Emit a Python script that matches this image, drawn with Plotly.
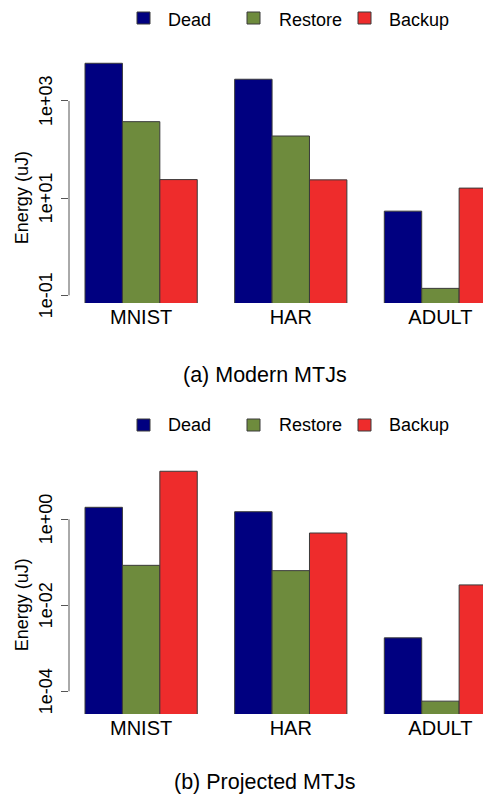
import math
import plotly.graph_objects as go

# The page places the figure 8px from the top-left corner (body margin),
# so the figure is sized to end exactly at the 491x799 window edge.
PAGE_W, PAGE_H = 491, 799
OFF = 8
W, H = PAGE_W - OFF, PAGE_H - OFF

categories = ["MNIST", "HAR", "ADULT"]
series_names = ["Dead", "Restore", "Backup"]
colors = ["#000080", "#6E8B3D", "#EE2C2C"]

# Panel (a): Modern MTJs (uJ)
modern_dead = [5970, 2800, 5.4]
modern_restore = [375, 190, 0.139]
modern_backup = [24.1, 23.8, 16.1]

# Panel (b): Projected MTJs (uJ)
proj_dead = [1.9, 1.5, 0.00175]
proj_restore = [0.085, 0.064, 0.000059]
proj_backup = [13.1, 0.48, 0.0298]

ticks_a = [0.1, 10, 1000]
ticklabels_a = ["1e-01", "1e+01", "1e+03"]
ticks_b = [0.0001, 0.01, 1]
ticklabels_b = ["1e-04", "1e-02", "1e+00"]

captions = ["(a) Modern MTJs", "(b) Projected MTJs"]
ytitle = "Energy (uJ)"

FONT = "Liberation Sans, Arial, Helvetica, sans-serif"


def fx(px):
    return (px - OFF) / W


def fy(py):
    return 1 - (py - OFF) / H


fig = go.Figure()

panels = [
    ("x", "y", [modern_dead, modern_restore, modern_backup]),
    ("x2", "y2", [proj_dead, proj_restore, proj_backup]),
]
for xa, ya, data in panels:
    for name, vals, col in zip(series_names, data, colors):
        fig.add_trace(go.Bar(
            x=categories, y=vals, name=name, xaxis=xa, yaxis=ya,
            marker=dict(color=col, line=dict(color="#3a3a3a", width=1)),
            showlegend=False,
        ))

# geometry (page pixels)
x_left = 69
a_bottom, a_top = 303, 50
b_bottom, b_top = 714, 460
a_range = [-1.158, 4.049]
b_range = [-4.528, 1.379]
x_range = [-0.482, 2.338]

xdom = [fx(x_left), 1]
common_x = dict(range=x_range, domain=xdom, showline=False, ticks="",
                showgrid=False, zeroline=False, automargin=False,
                tickfont=dict(size=20, color="black", family=FONT))
common_y = dict(type="log", showgrid=False, zeroline=False, showline=False,
                automargin=False, ticks="outside", ticklen=7,
                tickcolor="#555555", tickwidth=1, showticklabels=False)

fig.update_layout(
    template="none",
    xaxis=dict(**common_x, anchor="y"),
    yaxis=dict(**common_y, domain=[fy(a_bottom), fy(a_top)], range=a_range,
               tickvals=ticks_a, anchor="x"),
    xaxis2=dict(**common_x, anchor="y2"),
    yaxis2=dict(**common_y, domain=[fy(b_bottom), fy(b_top)], range=b_range,
                tickvals=ticks_b, anchor="x2"),
    barmode="group", bargap=0.25, bargroupgap=0,
    width=W, height=H, margin=dict(l=0, r=0, t=0, b=0),
    paper_bgcolor="white", plot_bgcolor="white",
    font=dict(family=FONT, color="black"),
)

shapes = []
annotations = []
for yref, tv, tl in (("y", ticks_a, ticklabels_a), ("y2", ticks_b, ticklabels_b)):
    shapes.append(dict(type="line", xref="paper", yref=yref,
                       x0=fx(x_left), x1=fx(x_left),
                       y0=min(tv), y1=max(tv),
                       line=dict(color="#555555", width=1)))
    for v, t in zip(tv, tl):
        annotations.append(dict(text=t, xref="paper", yref=yref, x=fx(46),
                                y=math.log10(v),
                                textangle=-90, xanchor="center", yanchor="middle",
                                showarrow=False,
                                font=dict(size=18, color="black", family=FONT)))
    annotations.append(dict(text=ytitle, xref="paper", yref=yref, x=fx(22),
                            y=(math.log10(tv[0]) + math.log10(tv[-1])) / 2,
                            textangle=-90, xanchor="center", yanchor="middle",
                            showarrow=False,
                            font=dict(size=18, color="black", family=FONT)))

# legends (square centre y, text centre y)
legend_sq_x = [137, 247, 358]
legend_txt_x = [166, 277, 387]
for sq_y, txt_y in ((18, 20), (425, 425)):
    for name, col, sx, tx in zip(series_names, colors, legend_sq_x, legend_txt_x):
        shapes.append(dict(type="rect", xref="paper", yref="paper",
                           x0=fx(sx), x1=fx(sx + 13),
                           y0=fy(sq_y + 6), y1=fy(sq_y - 6),
                           fillcolor=col, line=dict(color="#3a3a3a", width=1)))
        annotations.append(dict(text=name, xref="paper", yref="paper",
                                x=fx(tx), y=fy(txt_y), xanchor="left", yanchor="middle",
                                showarrow=False, font=dict(size=18, color="black", family=FONT)))

for cap, cy in zip(captions, (375, 782)):
    annotations.append(dict(text=cap, xref="paper", yref="paper",
                            x=fx(265), y=fy(cy), xanchor="center", yanchor="middle",
                            showarrow=False, font=dict(size=21.5, color="black", family=FONT)))

fig.update_layout(shapes=shapes, annotations=annotations)
fig.write_html("out.html")
